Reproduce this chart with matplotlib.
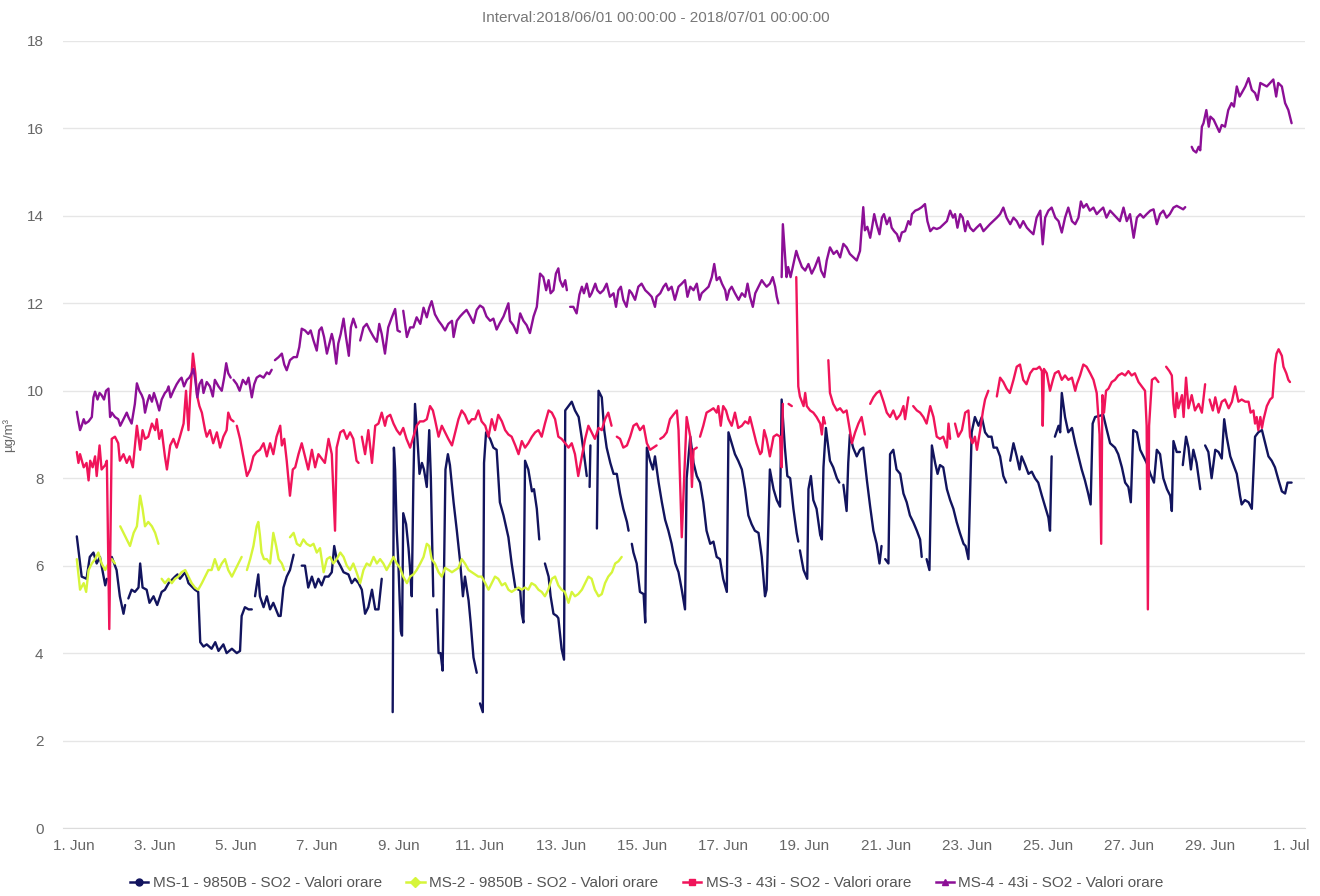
import numpy as np
import pandas as pd
import matplotlib
matplotlib.use("Agg")
import matplotlib.pyplot as plt
from matplotlib.lines import Line2D

plt.rcParams["font.family"] = ["Liberation Sans", "DejaVu Sans"]

# --- dati: (giorno dal 1 giugno, valore), None = buco ---
ms1 = [(0.08, 6.67), (0.20, 5.75), (0.32, 5.7), (0.40, 6.2), (0.49, 6.3), (0.57, 6.05), (0.65, 6.2),
       (0.78, 5.55), (0.82, 5.7), (0.86, None), (0.94, 6.2), (1.06, 5.9), (1.14, 5.3), (1.23, 4.9),
       (1.27, 5.1), (1.30, None), (1.35, 5.25), (1.43, 5.45), (1.51, 5.4), (1.60, 5.5), (1.64, 6.05),
       (1.70, 5.5), (1.80, 5.45), (1.87, 5.15), (1.97, 5.3), (2.06, 5.1), (2.17, 5.4), (2.25, 5.45),
       (2.34, 5.6), (2.50, 5.75), (2.56, 5.8), (2.62, 5.7), (2.75, 5.85), (2.83, 5.6), (2.99, 5.45),
       (3.07, 5.4), (3.12, 4.25), (3.20, 4.15), (3.28, 4.2), (3.40, 4.1), (3.49, 4.25), (3.57, 4.05),
       (3.69, 4.2), (3.77, 4.0), (3.90, 4.1), (4.02, 4.0), (4.10, 4.05), (4.14, 4.85), (4.22, 5.05),
       (4.31, 5.0), (4.39, 5.0), (4.43, None), (4.47, 5.3), (4.55, 5.8), (4.59, 5.3), (4.68, 5.05),
       (4.76, 5.3), (4.84, 5.0), (4.92, 5.15), (5.05, 4.85), (5.10, 4.85), (5.17, 5.5), (5.25, 5.75),
       (5.33, 5.9), (5.42, 6.25), (5.50, None), (5.62, 6.0), (5.70, 6.0), (5.78, 5.5), (5.87, 5.75),
       (5.95, 5.5), (6.03, 5.7), (6.11, 5.55), (6.19, 5.75), (6.28, 5.75), (6.36, 5.85), (6.42, 6.45),
       (6.48, 6.15), (6.57, 6.0), (6.65, 5.85), (6.77, 5.8), (6.85, 5.6), (6.93, 5.7), (7.02, 5.6),
       (7.10, 5.45), (7.18, 4.9), (7.26, 5.05), (7.35, 5.45), (7.43, 5.0), (7.51, 5.0), (7.59, 5.7),
       (7.70, None), (7.86, 2.65), (7.89, 8.7), (7.92, 8.2), (7.96, 6.8), (8.00, 6.05), (8.06, 4.5),
       (8.09, 4.4), (8.12, 7.2), (8.19, 6.95), (8.25, 6.4), (8.29, 5.9), (8.33, 5.3), (8.37, 7.95),
       (8.41, 9.7), (8.47, 8.9), (8.52, 8.1), (8.58, 8.35), (8.63, 8.2), (8.70, 7.8), (8.76, 9.1),
       (8.80, 8.0), (8.86, 5.3), (8.90, None), (8.95, 5.0), (8.99, 4.0), (9.04, 4.0), (9.09, 3.6),
       (9.13, 6.2), (9.16, 8.2), (9.22, 8.55), (9.27, 8.3), (9.36, 7.45), (9.44, 6.8), (9.52, 6.1),
       (9.59, 5.3), (9.64, 5.75), (9.73, 5.2), (9.78, 4.7), (9.85, 3.9), (9.93, 3.55), (9.97, None),
       (10.01, 2.85), (10.08, 2.65), (10.11, 8.35), (10.16, 9.05), (10.26, 8.9), (10.34, 8.7),
       (10.42, 8.65), (10.50, 7.45), (10.59, 7.15), (10.71, 6.65), (10.79, 6.05), (10.88, 5.5),
       (10.96, 5.45), (11.00, 5.45), (11.04, 4.9), (11.08, 4.7), (11.12, 8.4), (11.20, 8.2),
       (11.29, 7.7), (11.34, 7.75), (11.41, 7.3), (11.47, 6.6), (11.55, None), (11.61, 6.05),
       (11.70, 5.75), (11.75, 5.3), (11.82, 4.9), (11.90, 4.85), (11.94, 4.8), (12.02, 4.1),
       (12.08, 3.85), (12.11, 9.55), (12.19, 9.65), (12.27, 9.75), (12.35, 9.55), (12.44, 9.4),
       (12.52, 8.9), (12.60, 8.35), (12.64, 8.05), (12.67, None), (12.71, 7.8), (12.73, 8.75),
       (12.80, None), (12.89, 6.85), (12.93, 10.0), (13.01, 9.85), (13.07, 9.1), (13.13, 8.7),
       (13.22, 8.35), (13.30, 8.1), (13.38, 8.1), (13.46, 7.65), (13.54, 7.3), (13.63, 7.0),
       (13.67, 6.8), (13.71, None), (13.75, 6.5), (13.79, 6.3), (13.87, 6.05), (13.95, 5.4),
       (14.04, 5.35), (14.08, 4.7), (14.12, 8.7), (14.20, 8.4), (14.27, 8.2), (14.32, 8.5),
       (14.41, 7.9), (14.49, 7.45), (14.57, 7.05), (14.65, 6.8), (14.73, 6.5), (14.82, 6.05),
       (14.90, 5.85), (14.98, 5.45), (15.06, 5.0), (15.10, 8.0), (15.19, 8.95), (15.27, 8.35),
       (15.35, 8.05), (15.43, 7.9), (15.51, 7.45), (15.59, 6.8), (15.68, 6.5), (15.76, 6.55),
       (15.84, 6.2), (15.92, 6.15), (16.00, 5.7), (16.09, 5.4), (16.13, 9.05), (16.21, 8.8),
       (16.29, 8.55), (16.37, 8.4), (16.46, 8.2), (16.54, 7.75), (16.62, 7.15), (16.70, 6.95),
       (16.78, 6.8), (16.87, 6.75), (16.95, 6.2), (17.03, 5.3), (17.07, 5.45), (17.15, 8.2),
       (17.24, 7.75), (17.32, 7.5), (17.40, 7.35), (17.44, 9.8), (17.52, 8.7), (17.58, 8.05),
       (17.65, 8.0), (17.73, 7.3), (17.81, 6.75), (17.85, 6.55), (17.87, None), (17.89, 6.35),
       (17.98, 5.9), (18.07, 5.7), (18.10, 7.75), (18.16, 8.05), (18.22, 7.5), (18.30, 7.3),
       (18.39, 6.7), (18.43, 6.6), (18.47, 8.25), (18.53, 9.15), (18.63, 8.4), (18.71, 8.25),
       (18.80, 8.0), (18.86, 7.9), (18.90, None), (18.96, 7.85), (19.04, 7.25), (19.08, 8.35),
       (19.12, 9.0), (19.20, 8.7), (19.29, 8.5), (19.37, 8.65), (19.45, 8.7), (19.54, 7.95),
       (19.62, 7.35), (19.70, 6.8), (19.78, 6.5), (19.85, 6.05), (19.90, 6.45), (19.95, None),
       (19.99, 6.15), (20.07, 6.05), (20.11, 8.55), (20.19, 8.65), (20.27, 8.2), (20.36, 8.1),
       (20.44, 7.65), (20.52, 7.45), (20.60, 7.15), (20.68, 7.0), (20.77, 6.8), (20.85, 6.6),
       (20.89, 6.2), (20.95, None), (21.01, 6.15), (21.08, 5.9), (21.14, 8.75), (21.22, 8.35),
       (21.28, 8.1), (21.34, 8.3), (21.42, 8.25), (21.51, 7.75), (21.59, 7.5), (21.67, 7.3),
       (21.75, 7.0), (21.83, 6.75), (21.92, 6.5), (21.97, 6.45), (22.04, 6.15), (22.12, 9.05),
       (22.20, 9.4), (22.29, 9.2), (22.37, 9.4), (22.45, 9.05), (22.53, 8.95), (22.61, 8.95),
       (22.66, 8.7), (22.74, 8.7), (22.82, 8.5), (22.90, 8.05), (22.97, 7.9), (23.02, None),
       (23.07, 8.4), (23.15, 8.8), (23.23, 8.5), (23.30, 8.2), (23.35, 8.5), (23.44, 8.3),
       (23.52, 8.1), (23.60, 8.15), (23.68, 8.0), (23.76, 7.9), (23.85, 7.6), (23.93, 7.35),
       (24.01, 7.1), (24.05, 6.8), (24.09, 8.5), (24.13, None), (24.17, 8.95), (24.26, 9.2),
       (24.30, 9.05), (24.34, 9.95), (24.42, 9.4), (24.50, 9.05), (24.59, 9.15), (24.67, 8.8),
       (24.75, 8.5), (24.83, 8.2), (24.91, 7.95), (24.99, 7.65), (25.05, 7.4), (25.10, 9.25),
       (25.16, 9.4), (25.36, 9.45), (25.45, 9.1), (25.53, 8.8), (25.65, 8.7), (25.73, 8.55),
       (25.82, 8.25), (25.90, 7.9), (25.98, 7.8), (26.04, 7.45), (26.10, 9.1), (26.19, 9.05),
       (26.27, 8.65), (26.35, 8.5), (26.43, 8.35), (26.52, 8.1), (26.61, 7.9), (26.68, 8.65),
       (26.76, 8.55), (26.84, 8.0), (26.93, 7.75), (27.01, 7.6), (27.05, 7.25), (27.09, 8.85),
       (27.17, 8.6), (27.25, 8.6), (27.28, None), (27.32, 8.3), (27.40, 8.95), (27.46, 8.7),
       (27.52, 8.2), (27.58, 8.65), (27.66, 8.35), (27.75, 7.75), (27.80, None), (27.87, 8.75),
       (27.95, 8.6), (28.03, 8.0), (28.12, 8.65), (28.20, 8.6), (28.28, 8.45), (28.34, 9.35),
       (28.40, 8.95), (28.49, 8.5), (28.57, 8.3), (28.65, 8.1), (28.73, 7.6), (28.77, 7.4),
       (28.85, 7.5), (28.94, 7.45), (29.02, 7.3), (29.10, 8.95), (29.18, 9.05), (29.27, 9.1),
       (29.35, 8.8), (29.43, 8.5), (29.51, 8.4), (29.59, 8.25), (29.68, 7.95), (29.76, 7.7),
       (29.84, 7.65), (29.90, 7.9), (30.00, 7.9)]

ms2 = [(0.08, 6.15), (0.16, 5.45), (0.25, 5.6), (0.31, 5.4), (0.37, 5.9), (0.45, 6.05), (0.53, 6.15),
       (0.61, 6.3), (0.69, 6.05), (0.78, 5.9), (0.86, 6.05), (0.94, 6.15), (1.02, 6.05), (1.08, None),
       (1.15, 6.9), (1.23, 6.75), (1.31, 6.6), (1.39, 6.45), (1.48, 6.75), (1.56, 6.9), (1.64, 7.6),
       (1.70, 7.3), (1.76, 6.9), (1.84, 7.0), (1.93, 6.9), (2.01, 6.75), (2.09, 6.5), (2.13, None),
       (2.17, 5.7), (2.25, 5.6), (2.34, 5.7), (2.42, 5.6), (2.50, 5.7), (2.58, 5.75), (2.66, 5.85),
       (2.75, 5.9), (2.83, 5.75), (2.91, 5.6), (2.99, 5.5), (3.07, 5.45), (3.16, 5.6), (3.24, 5.75),
       (3.32, 5.9), (3.40, 5.9), (3.48, 6.15), (3.57, 5.9), (3.65, 6.05), (3.73, 6.15), (3.81, 5.9),
       (3.90, 5.75), (3.98, 5.9), (4.06, 6.05), (4.14, 6.2), (4.20, None), (4.27, 5.9), (4.35, 6.15),
       (4.43, 6.45), (4.51, 6.9), (4.55, 7.0), (4.59, 6.7), (4.63, 6.3), (4.69, 6.15), (4.76, 6.15),
       (4.84, 6.05), (4.92, 6.75), (4.99, 6.45), (5.05, 6.15), (5.13, 6.05), (5.19, 5.9), (5.25, None),
       (5.33, 6.65), (5.42, 6.75), (5.50, 6.5), (5.58, 6.45), (5.66, 6.6), (5.74, 6.5), (5.83, 6.45),
       (5.91, 6.5), (5.99, 6.3), (6.07, 6.4), (6.16, 5.85), (6.24, 6.15), (6.32, 6.2), (6.40, 6.05),
       (6.48, 6.15), (6.57, 6.3), (6.65, 6.2), (6.73, 6.0), (6.81, 5.9), (6.89, 6.05), (6.97, 5.85),
       (7.06, 5.6), (7.14, 5.9), (7.22, 6.05), (7.30, 6.0), (7.39, 6.2), (7.47, 6.05), (7.55, 6.15),
       (7.63, 6.05), (7.71, 5.9), (7.80, 6.05), (7.88, 6.2), (7.96, 6.05), (8.04, 5.95), (8.12, 5.75),
       (8.21, 5.6), (8.29, 5.75), (8.37, 5.8), (8.45, 5.9), (8.54, 6.05), (8.62, 6.2), (8.70, 6.5),
       (8.76, 6.45), (8.82, 6.15), (8.90, 6.05), (8.99, 5.85), (9.07, 5.75), (9.15, 5.95), (9.24, 5.9),
       (9.32, 5.85), (9.40, 5.9), (9.48, 5.95), (9.56, 6.15), (9.64, 6.05), (9.73, 5.9), (9.81, 5.85),
       (9.89, 5.8), (9.97, 5.75), (10.05, 5.75), (10.14, 5.6), (10.22, 5.45), (10.30, 5.6),
       (10.38, 5.75), (10.46, 5.7), (10.55, 5.55), (10.63, 5.6), (10.71, 5.45), (10.79, 5.4),
       (10.87, 5.45), (10.96, 5.5), (11.04, 5.45), (11.12, 5.5), (11.20, 5.45), (11.28, 5.6),
       (11.37, 5.55), (11.45, 5.45), (11.53, 5.4), (11.61, 5.3), (11.69, 5.45), (11.78, 5.7),
       (11.86, 5.75), (11.94, 5.55), (12.02, 5.45), (12.10, 5.4), (12.19, 5.15), (12.27, 5.4),
       (12.35, 5.3), (12.43, 5.35), (12.52, 5.45), (12.60, 5.6), (12.68, 5.75), (12.76, 5.7),
       (12.84, 5.45), (12.93, 5.3), (13.01, 5.35), (13.09, 5.6), (13.17, 5.75), (13.26, 5.85),
       (13.34, 6.05), (13.42, 6.1), (13.50, 6.2)]

ms3 = [(0.08, 8.6), (0.12, 8.35), (0.16, 8.55), (0.25, 8.25), (0.32, 8.35), (0.37, 7.95), (0.41, 8.4),
       (0.47, 8.25), (0.53, 8.5), (0.57, 8.05), (0.64, 8.75), (0.69, 8.2), (0.78, 8.3), (0.82, 8.4),
       (0.88, 4.55), (0.94, 8.9), (1.02, 8.95), (1.10, 8.8), (1.14, 8.4), (1.23, 8.55), (1.31, 8.35),
       (1.38, 8.5), (1.46, 8.25), (1.56, 9.2), (1.64, 8.65), (1.70, 9.1), (1.76, 8.9), (1.84, 8.95),
       (1.93, 9.25), (2.01, 9.1), (2.05, 9.35), (2.11, 8.9), (2.17, 9.1), (2.25, 8.5), (2.30, 8.2),
       (2.38, 8.75), (2.46, 8.9), (2.54, 8.7), (2.62, 8.95), (2.71, 9.25), (2.77, 10.0), (2.83, 9.1),
       (2.87, 9.85), (2.94, 10.85), (3.00, 10.4), (3.04, 9.9), (3.10, 9.65), (3.16, 9.5), (3.24, 9.1),
       (3.28, 8.95), (3.36, 9.1), (3.44, 8.8), (3.53, 9.05), (3.61, 8.7), (3.69, 8.95), (3.77, 9.1),
       (3.81, 9.5), (3.87, 9.35), (3.94, 9.3), (3.98, None), (4.02, 9.2), (4.10, 8.9), (4.18, 8.5),
       (4.27, 8.05), (4.35, 8.2), (4.43, 8.5), (4.51, 8.6), (4.59, 8.65), (4.68, 8.8), (4.76, 8.5),
       (4.84, 8.8), (4.92, 8.55), (5.00, 8.95), (5.09, 9.2), (5.13, 8.75), (5.19, 8.9), (5.25, 8.4),
       (5.33, 7.6), (5.40, 8.2), (5.46, 8.25), (5.54, 8.55), (5.62, 8.8), (5.70, 8.5), (5.78, 8.2),
       (5.87, 8.65), (5.95, 8.25), (6.03, 8.55), (6.11, 8.45), (6.19, 8.35), (6.28, 8.9), (6.36, 8.55),
       (6.44, 6.8), (6.48, 8.7), (6.57, 9.05), (6.65, 9.1), (6.73, 8.9), (6.81, 9.05), (6.89, 8.9),
       (6.97, 8.4), (7.02, 8.35), (7.06, None), (7.10, 8.95), (7.18, 8.55), (7.26, 9.1), (7.35, 8.35),
       (7.43, 9.2), (7.51, 9.25), (7.59, 9.5), (7.67, 9.2), (7.72, 9.4), (7.80, 9.45), (7.88, 9.25),
       (7.96, 9.1), (8.04, 9.0), (8.12, 9.15), (8.20, 8.9), (8.29, 8.7), (8.37, 8.95), (8.45, 9.2),
       (8.53, 9.3), (8.62, 9.3), (8.70, 9.35), (8.78, 9.65), (8.85, 9.55), (8.90, 9.35), (8.99, 8.95),
       (9.07, 9.2), (9.15, 9.05), (9.23, 8.9), (9.32, 8.75), (9.40, 9.05), (9.48, 9.35), (9.56, 9.55),
       (9.64, 9.45), (9.73, 9.25), (9.81, 9.35), (9.89, 9.35), (9.97, 9.55), (10.05, 9.3),
       (10.14, 9.2), (10.22, 8.95), (10.30, 9.35), (10.38, 9.1), (10.46, 9.45), (10.55, 9.3),
       (10.63, 9.1), (10.71, 9.0), (10.79, 8.95), (10.88, 8.75), (10.96, 8.55), (11.04, 8.85),
       (11.12, 8.7), (11.20, 8.8), (11.29, 8.95), (11.37, 9.05), (11.45, 9.1), (11.53, 8.95),
       (11.61, 9.25), (11.70, 9.55), (11.78, 9.5), (11.86, 9.35), (11.94, 8.95), (12.02, 8.9),
       (12.11, 8.8), (12.19, 8.7), (12.27, 8.8), (12.35, 8.55), (12.43, 8.05), (12.52, 8.5),
       (12.60, 8.9), (12.68, 9.2), (12.76, 9.05), (12.84, 8.9), (12.93, 9.15), (13.01, 9.1),
       (13.09, 9.35), (13.17, 9.5), (13.25, 9.2), (13.31, None), (13.38, 8.95), (13.46, 8.9),
       (13.54, 8.7), (13.63, 8.75), (13.71, 8.95), (13.79, 9.2), (13.87, 9.25), (13.95, 9.1),
       (14.04, 9.2), (14.12, 8.8), (14.20, 8.65), (14.28, 8.7), (14.36, 8.75), (14.40, None),
       (14.45, 8.9), (14.53, 8.95), (14.61, 9.05), (14.69, 9.35), (14.77, 9.45), (14.86, 9.55),
       (14.90, 9.1), (14.98, 6.65), (15.06, 8.5), (15.10, 9.4), (15.19, 8.95), (15.23, 7.8),
       (15.27, 8.65), (15.35, 8.7), (15.39, None), (15.43, 8.95), (15.51, 9.2), (15.59, 9.5),
       (15.68, 9.55), (15.76, 9.6), (15.84, 9.5), (15.88, 9.65), (15.94, 9.2), (16.00, 9.65),
       (16.07, 9.55), (16.13, 9.35), (16.21, 9.2), (16.29, 9.5), (16.37, 9.15), (16.46, 9.2),
       (16.54, 9.3), (16.62, 9.25), (16.66, 9.4), (16.74, 9.1), (16.82, 8.8), (16.91, 8.55),
       (16.95, 8.6), (17.01, 9.1), (17.07, 8.9), (17.15, 8.5), (17.24, 8.95), (17.32, 9.0),
       (17.40, 8.95), (17.44, 8.25), (17.47, 9.7), (17.54, None), (17.61, 9.7), (17.69, 9.65),
       (17.75, None), (17.80, 12.6), (17.85, 10.1), (17.89, 9.87), (17.98, 9.65), (18.02, 9.95),
       (18.06, 9.65), (18.14, 9.55), (18.22, 9.5), (18.30, 9.4), (18.39, 9.25), (18.43, 9.0),
       (18.47, 9.4), (18.51, 9.25), (18.55, None), (18.59, 10.7), (18.63, 9.95), (18.71, 9.7),
       (18.80, 9.55), (18.88, 9.6), (18.96, 9.5), (19.04, 9.55), (19.12, 9.1), (19.17, 8.8),
       (19.25, 9.05), (19.33, 9.25), (19.41, 9.4), (19.49, 9.0), (19.55, None), (19.62, 9.7),
       (19.70, 9.85), (19.78, 9.95), (19.86, 10.0), (19.95, 9.75), (20.03, 9.5), (20.11, 9.4),
       (20.19, 9.55), (20.27, 9.35), (20.36, 9.45), (20.44, 9.65), (20.48, 9.35), (20.56, 9.85),
       (20.62, None), (20.68, 9.65), (20.77, 9.55), (20.85, 9.5), (20.93, 9.4), (21.01, 9.25),
       (21.10, 9.65), (21.18, 9.4), (21.26, 8.95), (21.34, 8.9), (21.42, 8.95), (21.51, 8.7),
       (21.55, 9.25), (21.59, 8.9), (21.65, None), (21.71, 9.25), (21.79, 8.95), (21.88, 9.1),
       (21.96, 9.5), (22.04, 9.55), (22.08, 8.95), (22.14, 8.8), (22.20, 8.95), (22.25, 8.65),
       (22.33, 9.1), (22.40, 9.55), (22.45, 9.8), (22.53, 10.0), (22.63, None), (22.74, 9.87),
       (22.82, 10.3), (22.90, 10.2), (22.98, 10.05), (23.06, 9.95), (23.15, 10.25), (23.23, 10.55),
       (23.31, 10.6), (23.39, 10.25), (23.47, 10.15), (23.56, 10.4), (23.64, 10.5), (23.72, 10.5),
       (23.79, 10.55), (23.85, 10.45), (23.87, 9.2), (23.90, 10.5), (23.97, 10.4), (24.05, 10.0),
       (24.12, 10.25), (24.17, 10.4), (24.26, 10.45), (24.34, 10.25), (24.42, 10.35), (24.50, 10.25),
       (24.59, 10.3), (24.67, 10.0), (24.71, 10.15), (24.79, 10.35), (24.87, 10.6), (24.95, 10.55),
       (25.04, 10.4), (25.12, 10.25), (25.20, 9.95), (25.27, 9.0), (25.31, 6.5), (25.34, 9.9),
       (25.38, 9.5), (25.43, 10.0), (25.49, 10.05), (25.57, 10.2), (25.65, 10.25), (25.73, 10.35),
       (25.82, 10.4), (25.90, 10.35), (25.98, 10.45), (26.06, 10.35), (26.14, 10.4), (26.23, 10.2),
       (26.31, 10.1), (26.39, 10.0), (26.43, 9.2), (26.46, 5.0), (26.49, 9.2), (26.56, 10.25),
       (26.64, 10.3), (26.72, 10.2), (26.80, None), (26.91, 10.55), (26.99, 10.45), (27.05, 10.35),
       (27.09, 9.7), (27.13, 9.4), (27.17, 9.95), (27.21, 9.6), (27.30, 9.9), (27.34, 9.4),
       (27.40, 10.3), (27.46, 9.6), (27.54, 9.9), (27.62, 9.55), (27.71, 9.7), (27.79, 9.5),
       (27.87, 10.15), (27.92, None), (27.98, 9.8), (28.06, 9.55), (28.12, 9.85), (28.20, 9.5),
       (28.28, 9.75), (28.36, 9.8), (28.45, 9.6), (28.53, 9.75), (28.61, 10.1), (28.69, 9.75),
       (28.77, 9.8), (28.86, 9.75), (28.94, 9.75), (28.99, 9.5), (29.06, 9.55), (29.10, 9.25),
       (29.14, 9.4), (29.18, 9.1), (29.23, 9.4), (29.27, 9.15), (29.31, 9.35), (29.39, 9.65),
       (29.47, 9.8), (29.53, 9.85), (29.59, 10.6), (29.63, 10.85), (29.68, 10.95), (29.76, 10.8),
       (29.80, 10.55), (29.87, 10.4), (29.92, 10.25), (29.96, 10.2)]

ms4 = [(0.08, 9.52), (0.12, 9.3), (0.16, 9.1), (0.20, 9.2), (0.25, 9.35), (0.29, 9.25), (0.37, 9.3),
       (0.45, 9.4), (0.49, 9.85), (0.53, 9.98), (0.59, 9.8), (0.64, 9.95), (0.69, 9.9), (0.75, 9.8),
       (0.80, 10.0), (0.86, 10.05), (0.90, 9.4), (0.94, 9.5), (1.02, 9.4), (1.10, 9.35), (1.15, 9.2),
       (1.23, 9.35), (1.31, 9.5), (1.35, 9.4), (1.43, 9.25), (1.51, 9.7), (1.56, 10.17), (1.62, 10.0),
       (1.68, 9.9), (1.72, 9.8), (1.76, 9.5), (1.82, 9.75), (1.87, 9.9), (1.93, 9.75), (1.98, 9.95),
       (2.05, 9.75), (2.11, 9.55), (2.17, 9.8), (2.25, 9.95), (2.30, 10.0), (2.34, 10.1), (2.39, 9.85),
       (2.46, 10.0), (2.54, 10.15), (2.61, 10.25), (2.66, 10.3), (2.72, 10.1), (2.79, 10.25),
       (2.85, 10.3), (2.91, 10.4), (2.95, 10.5), (2.99, 10.3), (3.05, 9.85), (3.10, 10.15),
       (3.16, 10.25), (3.20, 9.95), (3.28, 10.2), (3.36, 10.1), (3.43, 9.87), (3.48, 10.25),
       (3.57, 10.1), (3.65, 10.0), (3.71, 10.3), (3.76, 10.63), (3.81, 10.4), (3.87, 10.3),
       (3.90, None), (3.94, 10.25), (4.02, 10.15), (4.09, 10.0), (4.17, 10.25), (4.25, 10.15),
       (4.31, 10.3), (4.39, 9.85), (4.45, 10.15), (4.51, 10.3), (4.59, 10.35), (4.68, 10.3),
       (4.76, 10.42), (4.82, 10.38), (4.88, 10.48), (4.92, None), (4.96, 10.7), (5.05, 10.77),
       (5.13, 10.85), (5.19, 10.6), (5.25, 10.47), (5.33, 10.7), (5.42, 10.77), (5.50, 10.77),
       (5.56, 11.0), (5.62, 11.42), (5.70, 11.38), (5.78, 11.3), (5.84, 11.38), (5.91, 11.15),
       (5.99, 10.92), (6.05, 11.38), (6.11, 11.45), (6.17, 11.23), (6.24, 10.85), (6.30, 11.08),
       (6.36, 11.3), (6.40, 11.15), (6.47, 10.62), (6.52, 11.08), (6.58, 11.3), (6.65, 11.65),
       (6.71, 11.23), (6.78, 10.8), (6.83, 11.45), (6.89, 11.65), (6.96, 11.45), (7.01, None),
       (7.06, 11.15), (7.14, 11.45), (7.22, 11.53), (7.30, 11.38), (7.39, 11.23), (7.47, 11.12),
       (7.53, 11.53), (7.59, 11.3), (7.67, 10.85), (7.75, 11.45), (7.84, 11.68), (7.92, 11.87),
       (7.98, 11.38), (8.04, 11.35), (8.08, None), (8.12, 11.83), (8.21, 11.23), (8.29, 11.45),
       (8.37, 11.45), (8.45, 11.68), (8.54, 11.53), (8.62, 11.9), (8.70, 11.68), (8.76, 11.9),
       (8.82, 12.05), (8.90, 11.75), (8.99, 11.6), (9.07, 11.5), (9.15, 11.38), (9.23, 11.53),
       (9.32, 11.6), (9.36, 11.23), (9.44, 11.6), (9.52, 11.7), (9.60, 11.78), (9.68, 11.85),
       (9.77, 11.7), (9.85, 11.55), (9.93, 11.85), (10.01, 11.95), (10.09, 11.9), (10.17, 11.7),
       (10.26, 11.6), (10.34, 11.65), (10.42, 11.4), (10.50, 11.55), (10.59, 11.7), (10.67, 11.9),
       (10.71, 12.0), (10.75, 11.6), (10.83, 11.5), (10.92, 11.32), (11.00, 11.77), (11.08, 11.6),
       (11.16, 11.5), (11.24, 11.32), (11.33, 11.7), (11.41, 11.92), (11.49, 12.68), (11.57, 12.6),
       (11.64, 12.3), (11.70, 12.53), (11.75, 12.23), (11.82, 12.3), (11.88, 12.68), (11.94, 12.8),
       (11.98, 12.53), (12.05, 12.38), (12.11, 12.53), (12.15, 12.3), (12.19, None), (12.23, 11.92),
       (12.31, 11.92), (12.39, 11.77), (12.46, 12.2), (12.52, 12.38), (12.57, 12.23), (12.64, 12.45),
       (12.71, 12.15), (12.76, 12.23), (12.85, 12.45), (12.90, 12.3), (12.97, 12.23), (13.05, 12.3),
       (13.13, 12.45), (13.21, 12.15), (13.30, 12.23), (13.36, 11.92), (13.42, 12.3), (13.48, 12.38),
       (13.54, 12.08), (13.62, 11.92), (13.69, 12.3), (13.75, 12.23), (13.83, 12.08), (13.91, 12.38),
       (13.99, 12.45), (14.08, 12.3), (14.16, 12.23), (14.24, 12.15), (14.32, 11.92), (14.36, 12.15),
       (14.45, 12.23), (14.53, 12.38), (14.59, 12.45), (14.65, 12.3), (14.73, 12.38), (14.81, 12.08),
       (14.90, 12.38), (14.98, 12.45), (15.06, 12.53), (15.12, 12.15), (15.19, 12.38), (15.27, 12.3),
       (15.35, 12.45), (15.42, 12.08), (15.47, 12.23), (15.55, 12.3), (15.64, 12.38), (15.72, 12.6),
       (15.78, 12.9), (15.84, 12.53), (15.91, 12.6), (15.97, 12.45), (16.05, 12.3), (16.09, 12.08),
       (16.15, 12.3), (16.21, 12.38), (16.29, 12.23), (16.38, 12.08), (16.46, 12.23), (16.54, 12.15),
       (16.60, 12.45), (16.66, 12.15), (16.73, 11.92), (16.79, 12.23), (16.87, 12.38), (16.95, 12.53),
       (17.01, 12.45), (17.07, 12.38), (17.15, 12.45), (17.22, 12.6), (17.28, 12.38), (17.32, 12.15),
       (17.36, 12.0), (17.40, None), (17.44, 12.6), (17.47, 13.81), (17.52, 13.13), (17.56, 12.6),
       (17.60, 12.83), (17.66, 12.6), (17.73, 12.9), (17.80, 13.2), (17.85, 13.05), (17.94, 12.83),
       (18.02, 12.75), (18.10, 12.9), (18.18, 12.68), (18.26, 12.83), (18.35, 13.05), (18.41, 12.75),
       (18.49, 12.6), (18.55, 12.98), (18.63, 13.28), (18.72, 13.13), (18.80, 13.2), (18.88, 13.05),
       (18.96, 13.36), (19.04, 13.28), (19.12, 13.13), (19.21, 13.05), (19.29, 12.98), (19.37, 13.2),
       (19.45, 14.2), (19.49, 13.67), (19.55, 13.75), (19.62, 13.5), (19.66, 13.7), (19.72, 14.04),
       (19.78, 13.8), (19.85, 13.58), (19.91, 13.96), (19.96, 14.04), (20.03, 13.81), (20.10, 13.96),
       (20.15, 13.73), (20.21, 13.65), (20.28, 13.58), (20.34, 13.42), (20.40, 13.62), (20.48, 13.65),
       (20.56, 13.88), (20.61, 13.8), (20.65, 14.04), (20.73, 14.12), (20.81, 14.15), (20.89, 14.2),
       (20.97, 14.27), (21.03, 13.88), (21.10, 13.65), (21.18, 13.73), (21.26, 13.7), (21.34, 13.73),
       (21.43, 13.81), (21.51, 13.88), (21.59, 14.12), (21.66, 13.96), (21.71, 14.04), (21.77, 13.73),
       (21.84, 14.04), (21.90, 13.96), (21.96, 13.65), (22.02, 13.88), (22.08, 13.73), (22.16, 13.65),
       (22.24, 13.73), (22.33, 13.81), (22.41, 13.65), (22.49, 13.73), (22.57, 13.81), (22.65, 13.88),
       (22.74, 13.96), (22.82, 14.04), (22.90, 14.19), (22.98, 13.96), (23.07, 13.81), (23.15, 13.96),
       (23.23, 13.88), (23.31, 13.73), (23.39, 13.88), (23.48, 13.73), (23.56, 13.65), (23.64, 13.58),
       (23.72, 13.96), (23.81, 14.12), (23.87, 13.35), (23.93, 13.96), (24.01, 14.12), (24.09, 14.19),
       (24.18, 13.96), (24.26, 13.88), (24.34, 13.62), (24.42, 13.96), (24.50, 14.19), (24.59, 13.88),
       (24.67, 13.81), (24.75, 13.96), (24.81, 14.33), (24.87, 14.19), (24.95, 14.27), (25.03, 14.12),
       (25.12, 14.19), (25.20, 14.04), (25.28, 14.12), (25.36, 14.19), (25.44, 13.96), (25.53, 14.12),
       (25.61, 14.04), (25.69, 13.96), (25.77, 13.88), (25.86, 14.19), (25.94, 13.88), (26.02, 14.04),
       (26.11, 13.5), (26.19, 13.96), (26.27, 14.04), (26.35, 13.96), (26.43, 14.04), (26.52, 14.12),
       (26.60, 14.15), (26.68, 13.81), (26.76, 14.04), (26.84, 14.12), (26.92, 13.96), (27.00, 14.04),
       (27.09, 14.19), (27.17, 14.23), (27.25, 14.19), (27.33, 14.15), (27.38, 14.2), (27.45, None),
       (27.54, 15.58), (27.58, 15.5), (27.65, 15.45), (27.71, 15.58), (27.75, 15.5), (27.79, 16.04),
       (27.83, 16.12), (27.90, 16.42), (27.96, 16.04), (28.00, 16.27), (28.08, 16.2), (28.16, 16.04),
       (28.22, 15.92), (28.28, 16.08), (28.36, 16.04), (28.44, 16.42), (28.52, 16.58), (28.58, 16.5),
       (28.65, 16.96), (28.72, 16.73), (28.77, 16.81), (28.86, 16.96), (28.94, 17.15), (29.02, 16.88),
       (29.10, 16.81), (29.16, 16.65), (29.23, 17.04), (29.31, 17.0), (29.39, 16.96), (29.47, 17.04),
       (29.55, 17.12), (29.62, 16.73), (29.67, 17.04), (29.76, 16.96), (29.84, 16.58), (29.92, 16.42),
       (30.00, 16.12)]

series_names = ["MS-1 - 9850B - SO2 - Valori orare", "MS-2 - 9850B - SO2 - Valori orare",
                "MS-3 - 43i - SO2 - Valori orare", "MS-4 - 43i - SO2 - Valori orare"]
series_colors = ["#12145e", "#d6f53a", "#f0145a", "#8c0f96"]
series_markers = ["o", "D", "s", "^"]

tick_labels = ["1. Jun", "3. Jun", "5. Jun", "7. Jun", "9. Jun", "11. Jun", "13. Jun", "15. Jun",
               "17. Jun", "19. Jun", "21. Jun", "23. Jun", "25. Jun", "27. Jun", "29. Jun", "1. Jul"]
y_ticks = [0, 2, 4, 6, 8, 10, 12, 14, 16, 18]

start = pd.Timestamp("2018-06-01")


def to_xy(pairs):
    days = np.array([p[0] for p in pairs], dtype=float)
    vals = np.array([np.nan if p[1] is None else p[1] for p in pairs], dtype=float)
    return start + pd.to_timedelta(days, unit="D"), vals


fig = plt.figure(figsize=(13.2, 8.96), dpi=100)
ax = fig.add_axes([63 / 1320, 68 / 896, 1242 / 1320, 787 / 896])

for data, col in zip([ms1, ms2, ms3, ms4], series_colors):
    t, v = to_xy(data)
    ax.plot(t, v, color=col, lw=1.7, solid_joinstyle="round", solid_capstyle="round")

ax.set_ylim(0, 18)
ax.set_yticks(y_ticks)
ax.set_xlim(start - pd.Timedelta(days=0.26), start + pd.Timedelta(days=30.33))
ax.set_xticks([start + pd.Timedelta(days=2 * i) for i in range(len(tick_labels))])
ax.set_xticklabels(tick_labels)

ax.grid(axis="y", color="#e6e6e6", lw=1)
ax.set_axisbelow(True)
for s in ["top", "right", "left"]:
    ax.spines[s].set_visible(False)
ax.spines["bottom"].set_color("#dcdcdc")
ax.tick_params(axis="both", length=0, labelsize=11, colors="#666666")
ax.tick_params(axis="y", pad=14)
ax.tick_params(axis="x", pad=8)

ax.set_ylabel("µg/m³", fontsize=9.5, color="#666666", labelpad=8)

fig.text(0.497, 0.98, "Interval:2018/06/01 00:00:00 - 2018/07/01 00:00:00",
         ha="center", va="center", fontsize=11, color="#777777")

handles = [Line2D([], [], color=c, marker=m, lw=1.8, markersize=5)
           for c, m in zip(series_colors, series_markers)]
fig.legend(handles, series_names, loc="center", bbox_to_anchor=(0.49, 0.014), ncol=4,
           frameon=False, fontsize=11, handlelength=1.2, handletextpad=0.3,
           columnspacing=1.6, labelcolor="#555555")

fig.savefig("out.png", dpi=100)
